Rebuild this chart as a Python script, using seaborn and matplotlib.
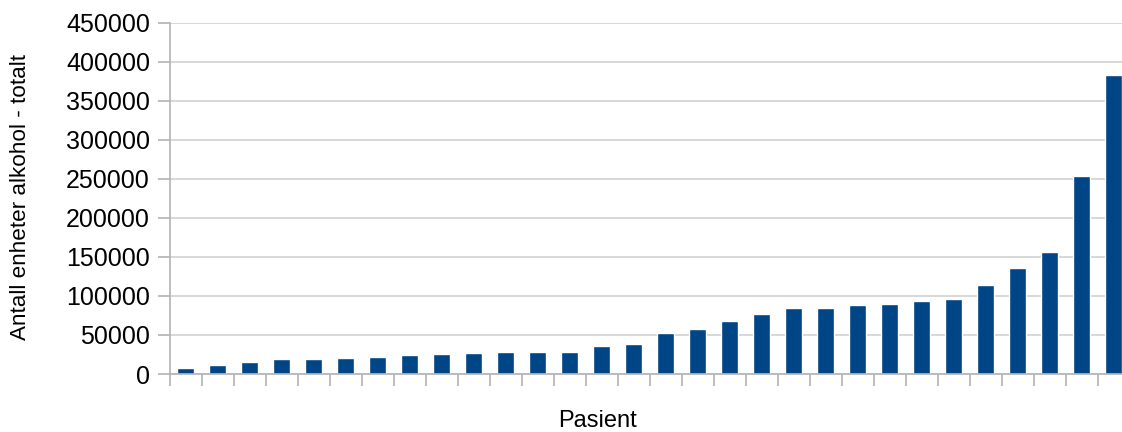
import numpy as np
import pandas as pd
import seaborn as sns
import matplotlib.pyplot as plt

# Values
patients = [f"P{i:02d}" for i in range(1, 31)]
units = [7200, 11300, 16000, 18600, 18600, 19900, 22400, 24100, 25400, 26300,
         28200, 28200, 28200, 35800, 38400, 52400, 57500, 67600, 76500, 84200,
         84300, 88100, 89400, 93200, 95700, 113600, 135300, 155700, 254000, 383500]
y_ticks = list(range(0, 450001, 50000))

df = pd.DataFrame({"pasient": patients, "enheter": units})

sns.set_style("white")
plt.rcParams['font.family'] = ['Liberation Sans', 'DejaVu Sans']

fig = plt.figure(figsize=(11.22, 4.32), dpi=100)
# plot area (right edge runs past the image like in the reference)
ax = fig.add_axes([169.5 / 1122, 58 / 432, 960 / 1122, 351.3 / 432])

sns.barplot(data=df, x="pasient", y="enheter", color="#004586",
            saturation=1, width=0.53, ax=ax)

ax.set_xlim(-0.5, len(patients) - 0.5)
ax.set_ylim(0, 450000)
ax.set_yticks(y_ticks)
ax.set_yticklabels([str(t) for t in y_ticks], fontsize=18)
ax.set_xticks([])
ax.set_xticks(np.arange(-0.5, len(patients), 1), minor=True)

grey = "#b3b3b3"
ax.yaxis.grid(True, color="#d4d4d4", linewidth=1.3)
ax.set_axisbelow(True)
for side in ["top", "right"]:
    ax.spines[side].set_visible(False)
for side in ["left", "bottom"]:
    ax.spines[side].set_color(grey)
    ax.spines[side].set_linewidth(1.2)

ax.tick_params(axis="y", which="major", left=True, length=8.6, width=1.2,
               color=grey, pad=5.5, labelcolor="black")
ax.tick_params(axis="x", which="minor", bottom=True, length=8.6, width=1.2,
               color=grey)

ax.set_xlabel("")
ax.set_ylabel("")
fig.text(597 / 1122, 1 - 421 / 432, "Pasient", fontsize=17, color="black",
         ha="center", va="center")
fig.text(21 / 1122, 1 - 197.5 / 432, "Antall enheter alkohol - totalt",
         fontsize=16.2, color="black", rotation=90, ha="center", va="center")

fig.savefig("out.png", dpi=100)
